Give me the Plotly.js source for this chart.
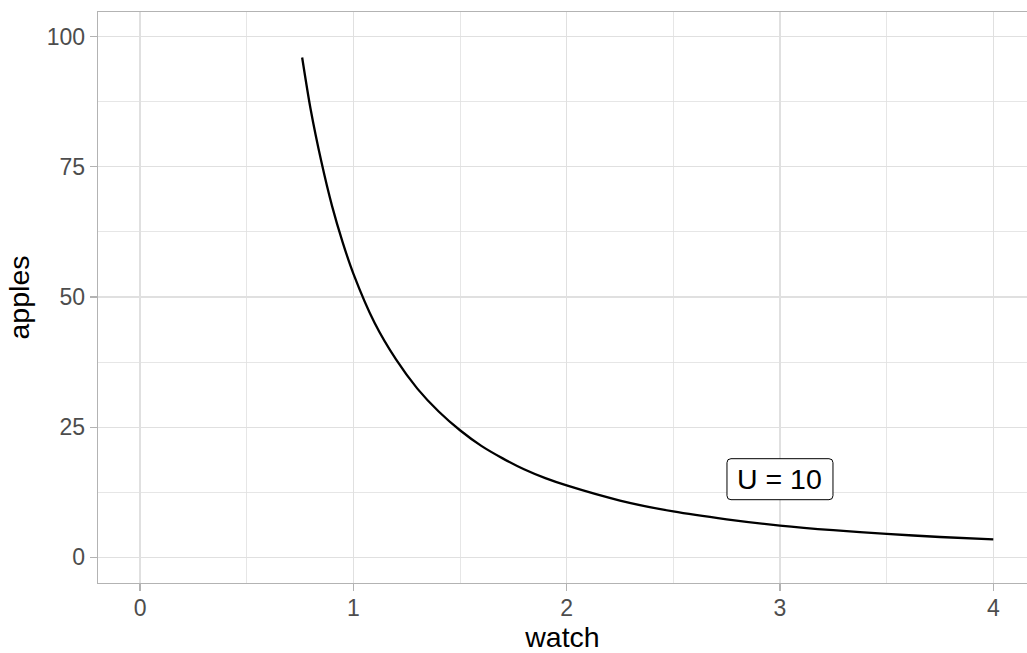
<!DOCTYPE html>
<html>
<head>
<meta charset="utf-8">
<script src="https://cdn.plot.ly/plotly-3.0.1.min.js"></script>
<style>
  html, body { margin: 0; padding: 0; background: #ffffff; }
  #chart { width: 1027px; height: 653px; }
</style>
</head>
<body>
<div id="chart"></div>
<script>
// Indifference curve values
const watch  = [0.76, 0.80, 0.85, 0.90, 0.95, 1.00, 1.10, 1.20, 1.30, 1.40, 1.50, 1.60, 1.70, 1.80, 1.90, 2.00, 2.25, 2.50, 2.75, 3.00, 3.25, 3.50, 3.75, 4.00];
const apples = [96.0, 86.0, 76.0, 67.5, 60.5, 54.5, 45.0, 38.0, 32.4, 28.0, 24.4, 21.4, 19.0, 16.9, 15.2, 13.8, 10.9, 8.8,  7.3,  6.1,  5.2,  4.5,  3.9,  3.45];

// Label
const labelX = [3];
const labelY = [15];
const labelText = ["U = 10"];

// Tick labels
const xTicks = [0, 1, 2, 3, 4];
const yTicks = [0, 25, 50, 75, 100];

const FONT = "Liberation Sans, Arial, Helvetica, sans-serif";
const GRID = "#e0e0e0";
const BORDER = "#b3b3b3";

const trace = {
  x: watch,
  y: apples,
  type: "scatter",
  mode: "lines",
  line: { color: "#000000", width: 2.3, shape: "spline", smoothing: 0.8 },
  hoverinfo: "skip",
  showlegend: false
};

// rounded box around the label, in pixels relative to the label anchor
const hw = 53, hh = 20.5, r = 4;
const boxPath =
  `M ${-hw + r},${-hh} L ${hw - r},${-hh} Q ${hw},${-hh} ${hw},${-hh + r} ` +
  `L ${hw},${hh - r} Q ${hw},${hh} ${hw - r},${hh} ` +
  `L ${-hw + r},${hh} Q ${-hw},${hh} ${-hw},${hh - r} ` +
  `L ${-hw},${-hh + r} Q ${-hw},${-hh} ${-hw + r},${-hh} Z`;

const shapes = labelX.map((lx, i) => ({
  type: "path",
  xref: "x", yref: "y",
  xsizemode: "pixel", ysizemode: "pixel",
  xanchor: lx, yanchor: labelY[i],
  path: boxPath,
  line: { color: "#000000", width: 1 },
  fillcolor: "#ffffff",
  layer: "above"
}));

const annotations = labelX.map((lx, i) => ({
  x: lx, y: labelY[i], xref: "x", yref: "y",
  text: labelText[i],
  showarrow: false,
  xanchor: "center", yanchor: "middle",
  font: { family: FONT, size: 28.5, color: "#000000" }
}));

const layout = {
  width: 1027,
  height: 653,
  margin: { l: 98, r: 0, t: 12, b: 70, pad: 0 },
  paper_bgcolor: "#ffffff",
  plot_bgcolor: "#ffffff",
  font: { family: FONT },
  showlegend: false,
  xaxis: {
    range: [-0.197, 4.158],
    tickmode: "array",
    tickvals: xTicks,
    ticktext: xTicks.map(String),
    showgrid: true,
    gridcolor: GRID,
    gridwidth: 1.1,
    minor: { dtick: 0.5, tick0: 0, showgrid: true, gridcolor: GRID, gridwidth: 0.8, ticklen: 0 },
    zeroline: false,
    showline: true,
    linecolor: BORDER,
    linewidth: 1.4,
    mirror: true,
    ticks: "outside",
    ticklen: 7,
    tickwidth: 1.2,
    tickcolor: BORDER,
    ticklabelstandoff: -3,
    tickfont: { family: FONT, size: 23, color: "#4d4d4d" },
    title: { text: "watch", font: { family: FONT, size: 28.5, color: "#000000" }, standoff: 8 }
  },
  yaxis: {
    range: [-4.94, 104.74],
    tickmode: "array",
    tickvals: yTicks,
    ticktext: yTicks.map(String),
    showgrid: true,
    gridcolor: GRID,
    gridwidth: 1.1,
    minor: { dtick: 12.5, tick0: 0, showgrid: true, gridcolor: GRID, gridwidth: 0.8, ticklen: 0 },
    zeroline: false,
    showline: true,
    linecolor: BORDER,
    linewidth: 1.4,
    mirror: false,
    ticks: "outside",
    ticklen: 7,
    tickwidth: 1.2,
    tickcolor: BORDER,
    tickfont: { family: FONT, size: 23, color: "#4d4d4d" },
    title: { text: "apples", font: { family: FONT, size: 28.5, color: "#000000" }, standoff: 8 }
  },
  shapes: shapes,
  annotations: annotations
};

Plotly.newPlot("chart", [trace], layout, { displayModeBar: false, staticPlot: true });
</script>
</body>
</html>
